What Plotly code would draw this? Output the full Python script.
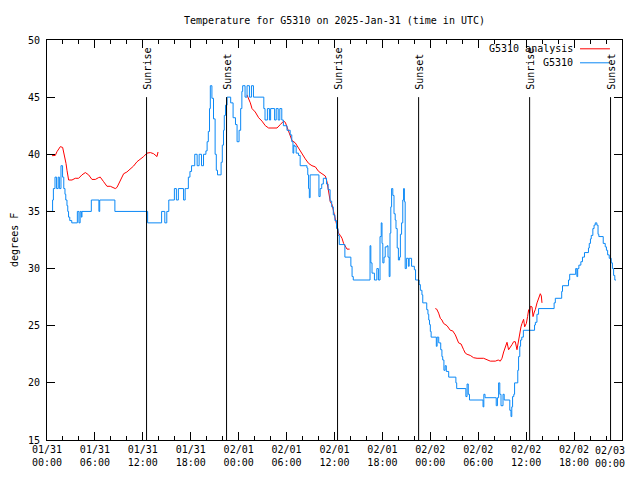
import plotly.graph_objects as go
import pandas as pd

START = "2025-01-31 00:00"

# G5310 observations: hours since start, temperature (F)
blue_h = [0.0, 0.7, 0.8, 1.0, 1.2, 1.4, 1.55, 1.75, 1.95, 2.1, 2.25, 2.35, 2.5, 2.6, 2.7, 2.85, 3.1,
          3.8, 4.0, 4.15, 4.3, 4.38, 5.55, 6.5, 6.6, 8.5, 12.6, 14.35, 14.75, 15.0, 15.25, 15.95, 16.2, 16.45,
          17.1, 17.3, 17.5, 17.7, 17.9, 18.1, 18.5, 18.8, 19.05, 19.35, 19.6, 19.9, 20.05, 20.2, 20.35, 20.45, 20.65,
          20.85, 21.05, 21.2, 21.35, 21.8, 21.95, 22.1, 22.2, 22.35, 22.55, 23.0, 23.3, 23.6, 23.8, 24.05, 24.25, 24.4, 24.5, 24.8,
          25.05, 25.35, 25.6, 25.85, 27.15, 27.3, 27.6, 27.85, 28.0, 28.5, 28.7, 28.95, 29.15, 29.4,
          29.6, 30.05, 30.45, 30.65, 30.8, 30.9, 31.0, 31.2, 31.5, 31.7, 32.55, 32.65, 32.75, 32.85, 32.95, 34.05, 34.2, 34.4, 34.6,
          35.0, 35.2, 35.45, 35.65, 35.85, 36.05, 36.25, 36.45, 36.6, 37.3, 38.05, 38.2, 38.35, 40.45, 40.55, 40.7, 41.0,
          41.3, 41.5, 41.7, 41.85, 41.95, 42.05, 42.2, 42.35, 42.6, 42.7, 42.85, 42.95, 43.05, 43.15, 43.3, 43.45, 43.6, 43.7, 43.85,
          44.0, 44.15, 44.25, 44.4, 44.55, 44.65, 44.75, 44.85, 45.0, 45.25, 45.35, 45.65, 46.0, 46.15, 46.6, 46.75, 46.95, 47.05, 47.55, 47.7,
          47.8, 47.9, 48.0, 48.1, 48.75, 48.85, 49.05, 49.3, 49.45, 49.55, 49.7, 49.85, 50.0, 50.3, 51.2, 51.3, 52.45,
          52.6, 52.75, 52.9, 54.6, 54.7, 54.85, 56.25, 56.4, 56.55, 56.7, 56.85, 57.1, 57.25, 57.95, 58.1, 58.2, 58.3,
          58.45, 58.55, 58.95, 59.05, 59.2, 59.3, 59.45, 59.65, 61.05, 61.15, 61.35, 61.55, 63.5, 63.65, 64.45, 64.55, 65.3, 65.45, 66.2, 66.35,
          66.45, 66.6, 66.85, 67.05, 67.3, 67.8, 67.9, 68.05, 68.15, 68.35, 68.5, 68.65, 68.85, 69.0, 69.1, 69.65, 69.9, 70.05, 70.2, 70.4,
          70.65, 70.8, 70.95, 71.1, 71.25, 71.8]
blue_v = [35, 36, 37, 38, 37, 38, 37, 39, 38, 37, 36.5, 36, 35.5, 35, 34.5, 34.2, 34,
          35, 34, 35, 34.5, 35, 36, 35, 36, 35, 34, 35, 34, 35, 36, 37, 36, 37,
          36, 37, 37, 38, 38.5, 39, 40, 39, 40, 39, 40, 40.3, 41.1, 42, 44, 46, 44.9,
          43.1, 40, 38.6, 38.2, 39.3, 40.8, 42.1, 43.4, 44.3, 45, 44.5, 43.2, 42.6, 41.1, 42.1, 44, 45.5, 46, 45,
          46, 45, 46, 45, 44, 43, 44, 43, 44, 43, 44, 43, 44, 43,
          42.5, 42.1, 41.7, 41.1, 40.1, 40.8, 40.7, 40.1, 39.9, 39, 38.8, 38.2, 37, 36.2, 38.2, 36.3, 37, 37.4, 37.9,
          37.4, 36.9, 35.9, 35.4, 34.7, 34.2, 33.5, 32.9, 32.1, 31, 30.2, 29.3, 29, 32, 30.5, 29.6, 29,
          30, 29, 32.8, 34, 32.2, 30.5, 31, 31.9, 32, 31, 29.3, 33.1, 35.4, 37, 36.4, 34.8, 34.25, 33.5, 31.8,
          30.75, 31, 33, 34, 36, 37, 35.85, 30, 30.9, 30.2, 30.9, 30.2, 29.9, 29, 28.6, 28.1, 27.7, 27, 26.4, 26,
          25.5, 25.1, 24.5, 24, 23.2, 24, 23.5, 22.9, 22.3, 22, 21.1, 21.5, 21, 20.5, 20, 19.5,
          18.8, 19.9, 19, 18.5, 17.9, 19, 18.7, 18, 18.7, 20, 19, 18, 19, 18.5, 17.6, 17.05, 17.9,
          18.8, 19, 20, 21.1, 22.3, 23.2, 23.75, 24, 24.6, 25.06, 25.3, 26, 26.5, 27, 27.4, 28, 28.5, 29, 29.5, 30,
          29.3, 30, 30.3, 30.6, 31, 31.4, 31.8, 32.2, 32.6, 32.9, 33.5, 33.8, 34, 33.8, 33, 32.8, 32.2, 31.9, 31.6, 31.2,
          30.9, 30.5, 30, 29.4, 29, 29]

# G5310 analysis: three separate runs
red1_h = [0.63, 1.04, 1.25, 1.67, 1.96, 2.21, 2.38, 2.5, 2.63, 2.71, 3.13, 3.54, 3.96, 4.38, 4.8, 5.21, 5.63, 6.05, 6.46, 6.67,
          7.09, 7.51, 7.93, 8.55, 8.76, 9.18, 9.6, 10.0, 10.43, 10.84, 11.27, 11.68, 12.1, 12.52, 12.94, 13.35, 13.77, 13.9]
red1_v = [39.88, 39.9, 40.23, 40.67, 40.6, 39.9, 39.2, 38.6, 37.9, 37.75, 37.75, 37.9, 37.9, 38.2, 38.4, 38.2, 37.8, 37.8, 37.96, 38.0,
          37.6, 37.2, 37.2, 37.0, 37.1, 37.75, 38.3, 38.45, 38.7, 38.97, 39.35, 39.56, 39.8, 40.1, 40.15, 40.05, 39.8, 40.2]
red2_h = [25.04, 25.25, 25.46, 25.67, 26.08, 26.5, 26.92, 27.34, 27.75, 28.17, 28.8, 29.21, 29.63, 29.84, 30.05, 30.26, 30.47, 30.68, 31.09, 31.51,
          31.93, 32.34, 32.76, 33.18, 33.6, 34.01, 34.43, 34.85, 35.06, 35.26, 35.47, 35.69, 35.89, 36.1, 36.31, 36.51, 36.73, 36.94, 37.14, 37.35,
          37.57, 37.89]
red2_v = [45.2, 44.9, 44.5, 44.0, 43.7, 43.2, 42.9, 42.5, 42.3, 42.3, 42.3, 42.6, 42.9, 42.8, 42.4, 42.0, 41.5, 41.2, 41.0, 40.5,
          40.0, 39.6, 39.2, 39.0, 38.9, 38.5, 38.3, 38.1, 37.6, 36.6, 35.85, 35.6, 35.0, 34.4, 33.5, 33.1, 32.9, 32.65, 32.2, 31.9,
          31.7, 31.7]
red3_h = [48.62, 48.8, 49.04, 49.25, 49.45, 49.66, 50.09, 50.5, 50.8, 51.13, 51.54, 51.85, 52.17, 52.38, 52.6, 53.0, 53.42, 53.85, 54.67, 55.1,
          55.51, 56.14, 56.5, 56.76, 56.97, 57.18, 57.39, 57.6, 57.8, 58.02, 58.23, 58.43, 58.64, 58.85, 59.05, 59.18, 59.35, 59.48, 59.68, 59.81,
          60.02, 60.18, 60.31, 60.43, 60.52, 60.73, 60.86, 61.02, 61.14, 61.36, 61.56, 61.77, 61.9, 61.98]
red3_v = [26.5, 26.45, 26.1, 25.65, 25.5, 25.2, 25.0, 24.6, 24.55, 24.2, 23.5, 23.4, 22.9, 22.6, 22.5, 22.4, 22.2, 22.15, 22.15, 22.05,
          21.9, 21.9, 22.0, 21.9, 22.15, 22.7, 23.2, 23.55, 22.9, 23.1, 23.35, 23.6, 23.6, 22.9, 23.7, 24.4, 24.9, 25.2, 25.56, 24.9,
          25.2, 25.8, 26.4, 26.1, 26.7, 26.65, 25.8, 26.2, 26.4, 27.0, 27.5, 27.8, 27.6, 27.0]

sunrise_times = ["2025-01-31 12:28", "2025-02-01 12:23", "2025-02-02 12:26"]
sunset_times = ["2025-01-31 22:29", "2025-02-01 22:32", "2025-02-02 22:34"]
sun_line_top = 45
y_min, y_max = 15, 50
x_end = "2025-02-03 00:00"

tick_times = ["2025-01-31 00:00", "2025-01-31 06:00", "2025-01-31 12:00", "2025-01-31 18:00",
              "2025-02-01 00:00", "2025-02-01 06:00", "2025-02-01 12:00", "2025-02-01 18:00",
              "2025-02-02 00:00", "2025-02-02 06:00", "2025-02-02 12:00", "2025-02-02 18:00",
              "2025-02-03 00:00"]
tick_labels = ["01/31<br>00:00", "01/31<br>06:00", "01/31<br>12:00", "01/31<br>18:00",
               "02/01<br>00:00", "02/01<br>06:00", "02/01<br>12:00", "02/01<br>18:00",
               "02/02<br>00:00", "02/02<br>06:00", "02/02<br>12:00", "02/02<br>18:00",
               "02/03<br>00:00"]

start = pd.Timestamp(START)


def to_time(hours):
    return [start + pd.Timedelta(hours=h) for h in hours]


red_x, red_y = [], []
for hs, vs in [(red1_h, red1_v), (red2_h, red2_v), (red3_h, red3_v)]:
    red_x += to_time(hs) + [None]
    red_y += vs + [None]

FONT = "DejaVu Sans Mono"
FS = 10
RED = "#ff0000"
BLUE = "#0a88f6"

# the page body adds an 8px offset; size the figure so the plot box lands at 47..622 x 40..440
FIG_W, FIG_H = 632, 472

fig = go.Figure()
fig.add_trace(go.Scatter(x=red_x, y=red_y, mode="lines", line=dict(color=RED, width=1),
                         connectgaps=False, name="G5310 analysis", showlegend=False))
fig.add_trace(go.Scatter(x=to_time(blue_h), y=blue_v, mode="lines", line=dict(color=BLUE, width=1, shape="hv"),
                         name="G5310", showlegend=False))

for label, times in [("Sunrise", sunrise_times), ("Sunset", sunset_times)]:
    for t in times:
        fig.add_shape(type="line", xref="x", yref="y", x0=t, x1=t, y0=y_min, y1=sun_line_top,
                      line=dict(color="black", width=1))
        fig.add_annotation(x=t, y=sun_line_top, xref="x", yref="y", text=label, textangle=-90,
                           showarrow=False, xanchor="center", yanchor="bottom", yshift=5, xshift=1,
                           font=dict(family=FONT, size=FS, color="black"))

# legend (gnuplot style: text then sample)
for name, color, ypos in [("G5310 analysis", RED, 0.978), ("G5310", BLUE, 0.943)]:
    fig.add_annotation(x=0.918, y=ypos, xref="paper", yref="paper", text=name, showarrow=False,
                       xanchor="right", yanchor="middle", font=dict(family=FONT, size=FS, color="black"))
    fig.add_shape(type="line", xref="paper", yref="paper", x0=0.927, x1=0.979, y0=ypos, y1=ypos,
                  line=dict(color=color, width=1))

fig.add_annotation(x=-0.0575, y=0.5, xref="paper", yref="paper", text="degrees F", textangle=-90,
                   showarrow=False, xanchor="center", yanchor="middle",
                   font=dict(family=FONT, size=FS, color="black"))

# the last tick label is pulled in against the right border, as gnuplot places it
fig.add_annotation(x=tick_times[-1], y=0, xref="x", yref="paper", text=tick_labels[-1], showarrow=False,
                   xanchor="right", yanchor="top", yshift=-3, xshift=5, align="center",
                   font=dict(family=FONT, size=FS, color="black"))
axis_labels = tick_labels[:-1] + [""]

fig.update_layout(
    width=FIG_W, height=FIG_H,
    margin=dict(l=39, r=18, t=32, b=40, autoexpand=False),
    paper_bgcolor="white", plot_bgcolor="white",
    title=dict(text="Temperature for G5310 on 2025-Jan-31 (time in UTC)", x=0.5, xref="paper",
               y=1 - 12 / FIG_H, yref="container", yanchor="middle", font=dict(family=FONT, size=FS, color="black")),
    font=dict(family=FONT, size=FS, color="black"),
    showlegend=False,
)
fig.update_xaxes(range=[START, x_end], tickvals=tick_times, ticktext=axis_labels, automargin=False,
                 ticks="inside", ticklen=8, tickcolor="black", showline=True, linecolor="black", linewidth=1,
                 mirror="allticks", showgrid=False, zeroline=False,
                 minor=dict(dtick=2 * 3600 * 1000, ticks="inside", ticklen=4, tickcolor="black", showgrid=False),
                 tickfont=dict(family=FONT, size=FS, color="black"))
fig.update_yaxes(range=[y_min, y_max], dtick=5, ticks="inside", ticklen=8, tickcolor="black", automargin=False,
                 showline=True, linecolor="black", linewidth=1, mirror="allticks", showgrid=False,
                 zeroline=False, ticklabelstandoff=4, tickfont=dict(family=FONT, size=FS, color="black"))

fig.write_html("out.html")
